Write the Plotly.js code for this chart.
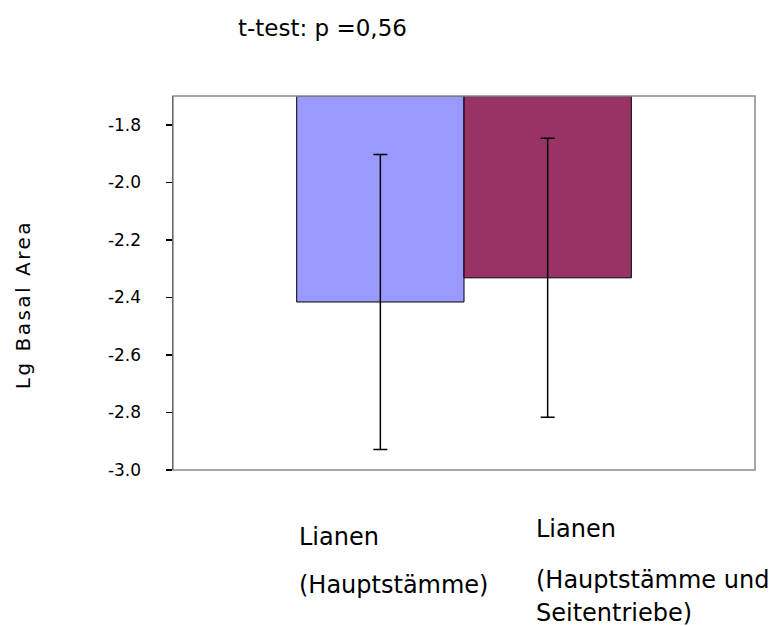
<!DOCTYPE html>
<html>
<head>
<meta charset="utf-8">
<script src="https://cdn.plot.ly/plotly-3.0.1.min.js"></script>
<style>
  html, body { margin: 0; padding: 0; background: #fff; }
  #chart { width: 775px; height: 626px; }
</style>
</head>
<body>
<div id="chart"></div>
<script>
// ---- data ----
const seriesNames = ["Lianen (Hauptstämme)", "Lianen (Hauptstämme und Seitentriebe)"];
const meanValues = [-2.416, -2.332];
const errorValues = [0.513, 0.485];
const barBase = -1.7;
const seriesColors = ["#9999FF", "#993366"];
const labelLines = [["Lianen", "(Hauptstämme)"], ["Lianen", "(Hauptstämme und", "Seitentriebe)"]];
const tickValues = [-3.0, -2.8, -2.6, -2.4, -2.2, -2.0, -1.8];
const tickLabels = ["-3.0", "-2.8", "-2.6", "-2.4", "-2.2", "-2.0", "-1.8"];
const titleText = "t-test: p =0,56";
const yTitleText = "Lg Basal Area";

const FONT = "DejaVu Sans, Verdana, sans-serif";

const traces = seriesNames.map((name, i) => ({
  type: "bar",
  name: name,
  x: ["all"],
  y: [meanValues[i] - barBase],
  base: [barBase],
  marker: { color: seriesColors[i], line: { color: "#000", width: 1 } },
  error_y: { type: "data", array: [errorValues[i]], visible: true, color: "#000", thickness: 1.5, width: 7 },
  hoverinfo: "skip"
}));

// plot area in pixels: left 173, right 755, top 96, bottom 470
const L = 173, R = 755, T = 96, B = 470;
const px = X => (X - L) / (R - L);
const py = Y => (B - Y) / (B - T);

const annotations = [];
annotations.push({
  text: titleText, xref: "paper", yref: "paper", x: px(322), y: py(28),
  xanchor: "center", yanchor: "middle", showarrow: false,
  font: { family: FONT, size: 23, color: "#000" }
});
annotations.push({
  text: yTitleText, xref: "paper", yref: "paper", x: px(23), y: py(305),
  xanchor: "center", yanchor: "middle", showarrow: false, textangle: -90,
  font: { family: FONT, size: 20, color: "#000" }
});
const labelX = [297, 534];
const labelY = [[537, 585], [529, 580, 613]];
labelLines.forEach((lines, i) => {
  lines.forEach((t, j) => {
    annotations.push({
      text: t, xref: "paper", yref: "paper", x: px(labelX[i]), y: py(labelY[i][j]),
      xanchor: "left", yanchor: "middle", showarrow: false,
      font: { family: FONT, size: 24, color: "#000" }
    });
  });
});

const layout = {
  width: 775, height: 626,
  margin: { l: L, r: 775 - R, t: T, b: 626 - B },
  paper_bgcolor: "#fff", plot_bgcolor: "#fff",
  showlegend: false,
  barmode: "group", bargap: 0.425, bargroupgap: 0,
  font: { family: FONT, color: "#000" },
  xaxis: { showticklabels: false, ticks: "", showgrid: false, zeroline: false, showline: false, fixedrange: true },
  yaxis: {
    range: [-3.0, -1.7], tickmode: "array", tickvals: tickValues, ticktext: tickLabels,
    ticks: "outside", ticklen: 6, tickwidth: 1.5, tickcolor: "#000",
    showline: true, linecolor: "#000", linewidth: 1.5,
    showgrid: false, zeroline: false,
    tickfont: { family: FONT, size: 17, color: "#000" },
    ticklabelstandoff: 21
  },
  shapes: [{
    type: "rect", xref: "paper", yref: "paper", x0: 0, x1: 1, y0: 0, y1: 1,
    line: { color: "#8a8a8a", width: 1.5 }, layer: "above"
  }],
  annotations: annotations
};

Plotly.newPlot("chart", traces, layout, { displayModeBar: false, staticPlot: true }).then(() => {
  document.querySelectorAll("#chart .annotation-text").forEach(el => {
    if (el.textContent === yTitleText) el.style.letterSpacing = "2.5px";
  });
});
</script>
</body>
</html>
